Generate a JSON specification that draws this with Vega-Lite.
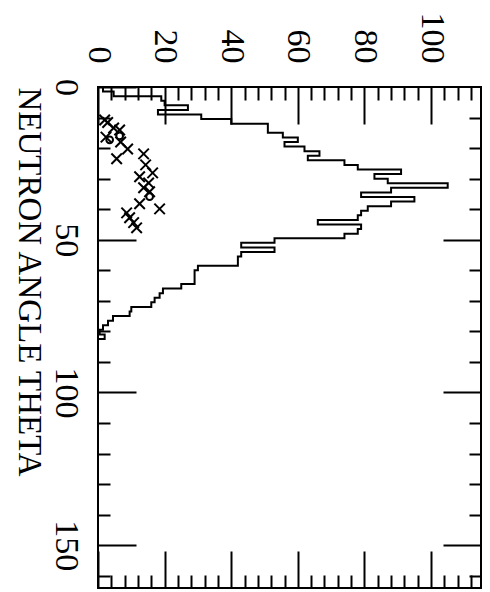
{
  "$schema": "https://vega.github.io/schema/vega-lite/v6.json",
  "width": 383,
  "height": 501,
  "autosize": "none",
  "padding": {"left": 98, "top": 87, "right": 9, "bottom": 4},
  "background": "white",
  "config": {
    "view": {"stroke": "black", "strokeWidth": 2},
    "axis": {"domain": false, "grid": false, "tickColor": "black", "tickWidth": 2, "labelColor": "black", "labelFont": "Liberation Serif", "labelFontSize": 34, "titleFont": "Liberation Serif", "titleColor": "black", "titleFontWeight": "normal", "labelFlush": false, "labelOverlap": false, "labelBound": false}
  },
  "datasets": {
    "hist": [
      {"theta": 0, "count": 1.5}, {"theta": 1.5, "count": 4.7}, {"theta": 3, "count": 19}, {"theta": 4.5, "count": 20},
      {"theta": 6, "count": 27}, {"theta": 7.5, "count": 18}, {"theta": 9, "count": 31}, {"theta": 10.5, "count": 40},
      {"theta": 12, "count": 51}, {"theta": 13.5, "count": 51}, {"theta": 15, "count": 55.5}, {"theta": 16.5, "count": 60},
      {"theta": 18, "count": 56}, {"theta": 19.5, "count": 62}, {"theta": 21, "count": 66.5}, {"theta": 22.5, "count": 63},
      {"theta": 24, "count": 74}, {"theta": 25.5, "count": 78}, {"theta": 27, "count": 91}, {"theta": 28.5, "count": 83},
      {"theta": 30, "count": 87}, {"theta": 31.5, "count": 105}, {"theta": 33, "count": 88}, {"theta": 34.5, "count": 79},
      {"theta": 36, "count": 95}, {"theta": 37.5, "count": 88}, {"theta": 39, "count": 81}, {"theta": 40.5, "count": 79},
      {"theta": 42, "count": 78}, {"theta": 43.5, "count": 66}, {"theta": 45, "count": 79}, {"theta": 46.5, "count": 78},
      {"theta": 48, "count": 74}, {"theta": 49.5, "count": 53}, {"theta": 51, "count": 43}, {"theta": 52.5, "count": 53},
      {"theta": 54, "count": 43}, {"theta": 55.5, "count": 42}, {"theta": 57, "count": 42}, {"theta": 58.5, "count": 30},
      {"theta": 60, "count": 29}, {"theta": 61.5, "count": 29}, {"theta": 63, "count": 29}, {"theta": 64.5, "count": 25},
      {"theta": 66, "count": 19.5}, {"theta": 67.5, "count": 18.5}, {"theta": 69, "count": 17}, {"theta": 70.5, "count": 16},
      {"theta": 72, "count": 10}, {"theta": 73.5, "count": 9.5}, {"theta": 75, "count": 4.5}, {"theta": 76.5, "count": 3},
      {"theta": 78, "count": 1.5}, {"theta": 79.5, "count": 0.5}, {"theta": 81, "count": 2}, {"theta": 82.5, "count": 0}
    ],
    "cross": [
      {"theta": 10.8, "count": 2.0}, {"theta": 11.6, "count": 2.9}, {"theta": 13.4, "count": 4.7}, {"theta": 14.1, "count": 6.5},
      {"theta": 16.4, "count": 2.4}, {"theta": 18.0, "count": 6.8}, {"theta": 20.3, "count": 8.9}, {"theta": 23.5, "count": 5.6},
      {"theta": 21.9, "count": 13.7}, {"theta": 25.5, "count": 14.3}, {"theta": 28.1, "count": 16.4}, {"theta": 29.4, "count": 12.5},
      {"theta": 31.4, "count": 15.2}, {"theta": 33.0, "count": 13.7}, {"theta": 34.3, "count": 15.5}, {"theta": 38.2, "count": 12.5},
      {"theta": 39.9, "count": 18.5}, {"theta": 41.2, "count": 8.6}, {"theta": 42.8, "count": 9.5}, {"theta": 44.4, "count": 10.7},
      {"theta": 46.1, "count": 11.6}
    ],
    "circle": [
      {"theta": 16.0, "count": 6.5}, {"theta": 17.3, "count": 3.5}, {"theta": 35.9, "count": 15.5}
    ]
  },
  "layer": [
    {
      "data": {"name": "hist"},
      "mark": {"type": "line", "interpolate": "step-before", "color": "black", "strokeWidth": 2},
      "encoding": {
        "x": {"field": "count", "type": "quantitative", "scale": {"domain": [0, 115], "nice": false},
          "axis": {"orient": "top", "values": [0, 20, 40, 60, 80, 100], "tickSize": -37, "labelAngle": 90, "labelAlign": "right", "labelBaseline": "middle", "labelPadding": 61, "title": null}},
        "y": {"field": "theta", "type": "quantitative", "scale": {"domain": [0, 164], "nice": false, "reverse": true},
          "axis": {"orient": "left", "values": [0, 50, 100, 150], "tickSize": -38, "labelAngle": 90, "labelAlign": "center", "labelBaseline": "top", "labelPadding": 54,
            "title": "NEUTRON ANGLE THETA", "titleFontSize": 33, "titleAngle": 90, "titleX": -80, "titleY": 0, "titleAlign": "left", "titleBaseline": "alphabetic"}},
        "order": {"field": "theta", "type": "quantitative"}
      }
    },
    {
      "data": {"name": "cross"},
      "mark": {"type": "point", "shape": "M-1,-1L1,1M-1,1L1,-1", "filled": false, "color": "black", "strokeWidth": 2, "size": 110, "opacity": 1},
      "encoding": {
        "x": {"field": "count", "type": "quantitative", "scale": {"domain": [0, 115], "nice": false},
          "axis": {"orient": "bottom", "values": [0, 20, 40, 60, 80, 100], "tickSize": -37, "labels": false, "title": null}},
        "y": {"field": "theta", "type": "quantitative", "scale": {"domain": [0, 164], "nice": false, "reverse": true},
          "axis": {"orient": "right", "values": [50, 100, 150], "tickSize": -38, "labels": false, "title": null}}
      }
    },
    {
      "data": {"name": "circle"},
      "mark": {"type": "point", "shape": "circle", "filled": false, "color": "black", "strokeWidth": 2, "size": 45, "opacity": 1},
      "encoding": {
        "x": {"field": "count", "type": "quantitative", "scale": {"domain": [0, 115], "nice": false},
          "axis": {"orient": "top", "values": [4, 8, 12, 16, 24, 28, 32, 36, 44, 48, 52, 56, 64, 68, 72, 76, 84, 88, 92, 96, 104, 108, 112], "tickSize": -13, "labels": false, "title": null}},
        "y": {"field": "theta", "type": "quantitative", "scale": {"domain": [0, 164], "nice": false, "reverse": true},
          "axis": {"orient": "left", "values": [10, 20, 30, 40, 60, 70, 80, 90, 110, 120, 130, 140, 160], "tickSize": -12, "labels": false, "title": null}}
      }
    },
    {
      "data": {"name": "hist"},
      "mark": {"type": "line", "interpolate": "step-before", "color": "black", "strokeWidth": 2, "strokeOpacity": 0},
      "encoding": {
        "x": {"field": "count", "type": "quantitative", "scale": {"domain": [0, 115], "nice": false},
          "axis": {"orient": "bottom", "values": [4, 8, 12, 16, 24, 28, 32, 36, 44, 48, 52, 56, 64, 68, 72, 76, 84, 88, 92, 96, 104, 108, 112], "tickSize": -13, "labels": false, "title": null}},
        "y": {"field": "theta", "type": "quantitative", "scale": {"domain": [0, 164], "nice": false, "reverse": true},
          "axis": {"orient": "right", "values": [10, 20, 30, 40, 60, 70, 80, 90, 110, 120, 130, 140, 160], "tickSize": -12, "labels": false, "title": null}},
        "order": {"field": "theta", "type": "quantitative"}
      }
    }
  ],
  "resolve": {"axis": {"x": "independent", "y": "independent"}}
}
